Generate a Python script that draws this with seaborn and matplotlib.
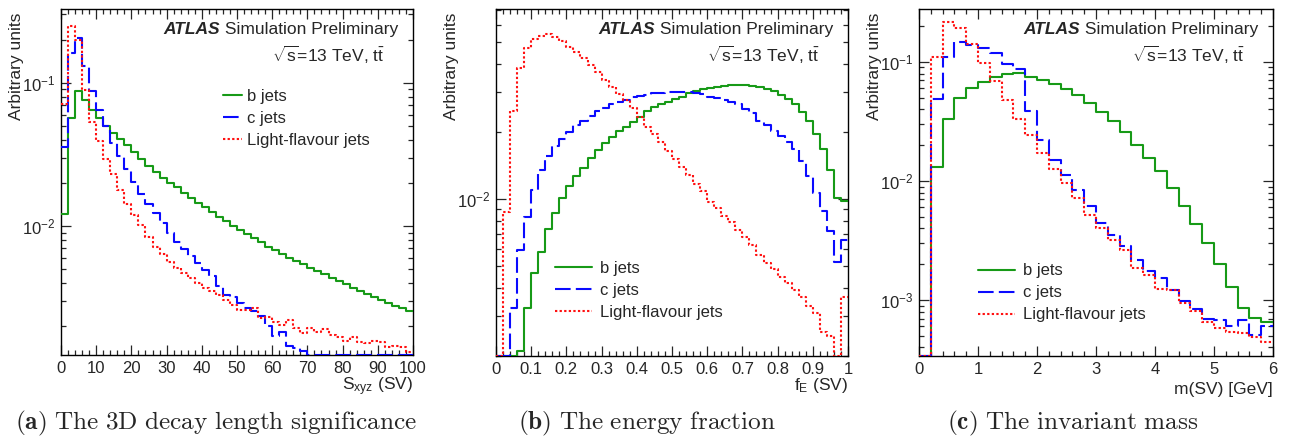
import numpy as np
import matplotlib.pyplot as plt
import matplotlib.ticker as mticker
import seaborn as sns

sns.set_style("ticks")
plt.rcParams['font.family'] = ['Liberation Sans', 'DejaVu Sans']
plt.rcParams['mathtext.fontset'] = 'custom'
plt.rcParams['mathtext.rm'] = 'Liberation Sans'
plt.rcParams['mathtext.it'] = 'Liberation Sans:italic'
plt.rcParams['mathtext.bf'] = 'Liberation Sans:bold'

flavours = ['b jets', 'c jets', 'Light-flavour jets']

# (a) 3D decay length significance, 50 bins in [0, 100]
sxyz_edges = np.linspace(0, 100, 51)
sxyz_b = [0.0121, 0.0564, 0.0875, 0.0761, 0.0644, 0.0567, 0.0501, 0.0448, 0.0402, 0.0365,
          0.0330, 0.0293, 0.0264, 0.0239, 0.0217, 0.0200, 0.0186, 0.0171, 0.0158, 0.0146,
          0.0135, 0.0126, 0.0116, 0.0108, 0.0100, 0.00937, 0.00885, 0.00820, 0.00769, 0.00718,
          0.00676, 0.00634, 0.00601, 0.00570, 0.00540, 0.00512, 0.00485, 0.00460, 0.00436, 0.00413,
          0.00392, 0.00371, 0.00352, 0.00337, 0.00321, 0.00306, 0.00292, 0.00278, 0.00266, 0.00255]
sxyz_c = [0.0357, 0.162, 0.204, 0.131, 0.088, 0.0645, 0.0499, 0.0378, 0.0308, 0.0249,
          0.0204, 0.0167, 0.0142, 0.0123, 0.0105, 0.00898, 0.00778, 0.00687, 0.00617, 0.00549,
          0.00493, 0.00448, 0.00381, 0.00330, 0.00318, 0.00289, 0.00267, 0.00257, 0.00235, 0.00200,
          0.00171, 0.00183, 0.00146, 0.00140, 0.00135, 0, 0, 0, 0, 0,
          0, 0, 0, 0, 0, 0, 0, 0, 0, 0]
sxyz_l = [0.0706, 0.250, 0.199, 0.0889, 0.0534, 0.0392, 0.0293, 0.0229, 0.0178, 0.0142,
          0.0119, 0.0102, 0.00843, 0.00718, 0.00634, 0.00564, 0.00507, 0.00468, 0.00432, 0.00398,
          0.00367, 0.00352, 0.00330, 0.00305, 0.00281, 0.00259, 0.00259, 0.00267, 0.00227, 0.00233,
          0.00215, 0.00204, 0.00221, 0.00193, 0.00178, 0.00193, 0.00183, 0.00191, 0.00174, 0.00169,
          0.00158, 0.00169, 0.00156, 0.00152, 0.00158, 0.00156, 0.00144, 0.00146, 0.00144, 0.00132]

# (b) energy fraction, 50 bins in [0, 1]
fe_edges = np.linspace(0, 1, 51)
fe_b = [0, 0, 0, 0.00209, 0.00325, 0.00466, 0.00582, 0.00735, 0.00868, 0.0101,
        0.0114, 0.0127, 0.0138, 0.0153, 0.0166, 0.0177, 0.0190, 0.0201, 0.0210, 0.0220,
        0.0233, 0.0247, 0.0258, 0.0265, 0.0272, 0.0279, 0.0286, 0.0296, 0.0303, 0.0310,
        0.0314, 0.0317, 0.0321, 0.0323, 0.0323, 0.0323, 0.0321, 0.0317, 0.0310, 0.0303,
        0.0291, 0.0279, 0.0265, 0.0245, 0.0223, 0.0196, 0.0167, 0.0135, 0.0101, 0.0098]
fe_c = [0, 0, 0.00327, 0.00592, 0.00834, 0.0110, 0.0135, 0.0155, 0.0172, 0.0186,
        0.0200, 0.0213, 0.0224, 0.0235, 0.0246, 0.0256, 0.0265, 0.0272, 0.0278, 0.0284,
        0.0288, 0.0292, 0.0296, 0.0298, 0.0300, 0.0300, 0.0301, 0.0300, 0.0297, 0.0293,
        0.0286, 0.0283, 0.0277, 0.0272, 0.0265, 0.0252, 0.0241, 0.0223, 0.0215, 0.0201,
        0.0192, 0.0180, 0.0167, 0.0148, 0.0126, 0.0106, 0.00884, 0.00719, 0.00521, 0.00656]
fe_l = [0, 0.00872, 0.0247, 0.0386, 0.0471, 0.0517, 0.0536, 0.0543, 0.0531, 0.0507,
        0.0479, 0.0455, 0.0425, 0.0397, 0.0370, 0.0340, 0.0317, 0.0293, 0.0277, 0.0254,
        0.0233, 0.0210, 0.0196, 0.0180, 0.0163, 0.0151, 0.0139, 0.0128, 0.0117, 0.0108,
        0.00973, 0.00908, 0.00839, 0.00792, 0.00727, 0.00679, 0.00623, 0.00562, 0.00516, 0.00486,
        0.00450, 0.00423, 0.00392, 0.00364, 0.00333, 0.00309, 0.00256, 0.00245, 0, 0.00364]

# (c) invariant mass, 30 bins in [0, 6] GeV
msv_edges = np.linspace(0, 6, 31)
msv_b = [0, 0.0130, 0.0330, 0.0501, 0.0601, 0.0684, 0.0753, 0.0788, 0.0813, 0.0748,
         0.0706, 0.0653, 0.0593, 0.0528, 0.0457, 0.0383, 0.0322, 0.0256, 0.0201, 0.0157,
         0.0121, 0.00879, 0.00621, 0.00435, 0.00299, 0.00201, 0.00129, 0.000863, 0.000702, 0.000649]
msv_c = [0, 0.0485, 0.111, 0.148, 0.140, 0.131, 0.119, 0.0965, 0.0880, 0.0385,
         0.0221, 0.0150, 0.0112, 0.00839, 0.00617, 0.00441, 0.00352, 0.00286, 0.00217, 0.00175,
         0.00154, 0.00121, 0.000987, 0.000840, 0.000692, 0.000679, 0.000608, 0.000679, 0.000508, 0.000605]
msv_l = [0, 0.111, 0.215, 0.192, 0.142, 0.0980, 0.0688, 0.0484, 0.0334, 0.0242,
         0.0172, 0.0127, 0.00970, 0.00714, 0.00518, 0.00405, 0.00319, 0.00263, 0.00187, 0.00164,
         0.00125, 0.00121, 0.000937, 0.000809, 0.000658, 0.000578, 0.000542, 0.000525, 0.000492, 0.000441]

colors = ['#179a17', '#0a0aff', '#ff1010']
styles = ['-', (0, (7.5, 2.5)), (0, (1.1, 1.1))]


def draw_panel(ax, edges, series, ylim, xlim, xmajor, xminor, xlabel, legend_xy, handle_len,
               text_pad, xlabel_y, caption, caption_x):
    centres = 0.5 * (edges[:-1] + edges[1:])
    handles = []
    for vals, name, col, ls in zip(series, flavours, colors, styles):
        vals = np.asarray(vals)
        # empty bins sit on the bottom of the frame, like ROOT does
        heights = np.where(vals > 0, vals, ylim[0])
        sns.histplot(x=centres, weights=heights, bins=edges.tolist(), element='step', fill=False,
                     color=col, linestyle=ls, linewidth=1.5, ax=ax, zorder=3)
        line = ax.lines[-1]
        line.set_label(name)
        handles.append(line)

    ax.set_yscale('log')
    ax.set_ylim(*ylim)
    ax.set_xlim(*xlim)
    ax.xaxis.set_major_locator(mticker.MultipleLocator(xmajor))
    ax.xaxis.set_minor_locator(mticker.MultipleLocator(xminor))
    ax.xaxis.set_major_formatter(mticker.FormatStrFormatter('%g'))
    ax.yaxis.set_major_locator(mticker.LogLocator(base=10))
    ax.yaxis.set_minor_locator(mticker.LogLocator(base=10, subs=np.arange(2, 10)))
    ax.yaxis.set_minor_formatter(mticker.NullFormatter())
    ax.tick_params(which='both', direction='in', top=True, right=True, width=0.9,
                   labelsize=12, pad=4)
    ax.tick_params(which='major', length=7.5)
    ax.tick_params(which='minor', length=3.8)
    for sp in ax.spines.values():
        sp.set_linewidth(1.0)
        sp.set_color('black')

    ax.set_ylabel('Arbitrary units', fontsize=12.5, loc='top')
    ax.yaxis.set_label_coords(-0.105, 0.99)
    ax.set_xlabel(xlabel, fontsize=12.5, loc='right')
    ax.xaxis.set_label_coords(1.0, xlabel_y)

    ax.legend(handles=handles, loc='upper left', bbox_to_anchor=legend_xy, frameon=False,
              fontsize=12, handlelength=handle_len, handletextpad=text_pad, labelspacing=0.42,
              borderpad=0, borderaxespad=0)

    t = ax.text(0.958, 0.928, ' Simulation Preliminary', transform=ax.transAxes,
                ha='right', va='baseline', fontsize=12.5)
    ax.annotate('ATLAS', xy=(0, 0), xycoords=t, ha='right', va='bottom',
                fontsize=12.5, fontweight='bold', fontstyle='italic')
    ax.text(0.92, 0.847, r'$\sqrt{\mathrm{s}}$=13 TeV, $\mathrm{t\bar{t}}$',
            transform=ax.transAxes, ha='right', va='baseline', fontsize=12.5)

    fig.text(caption_x, 1 - 423 / 441, caption, ha='center', va='center',
             fontsize=18.2, math_fontfamily='cm')


fig = plt.figure(figsize=(12.93, 4.41), dpi=100)
W, H = 1293, 441
ax_a = fig.add_axes([61 / W, 1 - 355 / H, 352 / W, 346 / H])
ax_b = fig.add_axes([496 / W, 1 - 356 / H, 352 / W, 347 / H])
ax_c = fig.add_axes([919 / W, 1 - 356 / H, 354 / W, 347 / H])

draw_panel(ax_a, sxyz_edges, [sxyz_b, sxyz_c, sxyz_l], (0.00126, 0.327), (0, 100), 10, 2,
           r'S$_{\mathrm{xyz}}$ (SV)', (0.46, 0.768), 1.15, 0.3, -0.058,
           r'$\mathbf{(a)}\ \mathrm{The\ 3D\ decay\ length\ significance}$', 216 / W)
draw_panel(ax_b, fe_edges, [fe_b, fe_c, fe_l], (0.00199, 0.0705), (0, 1), 0.1, 0.02,
           r'f$_{\mathrm{E}}$ (SV)', (0.168, 0.273), 2.2, 0.5, -0.058,
           r'$\mathbf{(b)}\ \mathrm{The\ energy\ fraction}$', 647 / W)
draw_panel(ax_c, msv_edges, [msv_b, msv_c, msv_l], (0.000339, 0.279), (0, 6), 1, 0.2,
           'm(SV) [GeV]', (0.167, 0.267), 2.2, 0.5, -0.075,
           r'$\mathbf{(c)}\ \mathrm{The\ invariant\ mass}$', 1073 / W)

fig.savefig('out.png', dpi=100)
